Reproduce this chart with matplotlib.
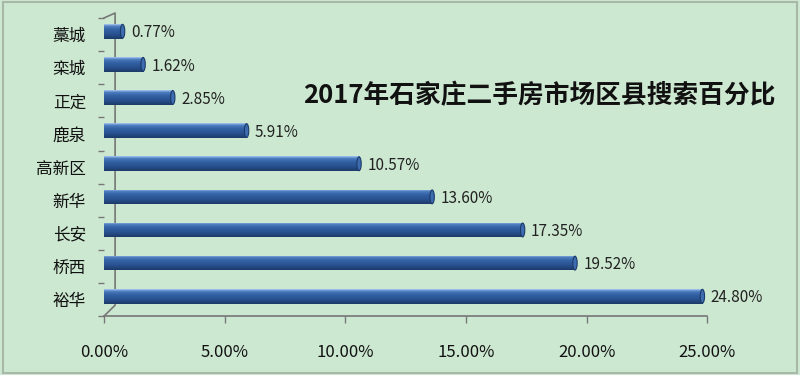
import numpy as np
import matplotlib.pyplot as plt
from matplotlib.colors import LinearSegmentedColormap
from matplotlib.patches import Ellipse

plt.rcParams['font.family'] = ['Noto Sans CJK SC', 'DejaVu Sans']

# 数据
districts = ["裕华", "桥西", "长安", "新华", "高新区", "鹿泉", "正定", "栾城", "藁城"]
share = [24.80, 19.52, 17.35, 13.60, 10.57, 5.91, 2.85, 1.62, 0.77]
xticks = [0, 5, 10, 15, 20, 25]
title = "2017年石家庄二手房市场区县搜索百分比"

bg = "#cde8d1"
fig = plt.figure(figsize=(8, 3.75), dpi=100, facecolor=bg)
ax = fig.add_axes([0.13, 0.157, 0.754, 0.795], facecolor=bg)

y = np.arange(len(districts))
bars = ax.barh(y + 0.1, share, height=0.44, color="#2d5a98", zorder=2)

# 圆柱渐变
cmap = LinearSegmentedColormap.from_list(
    "cyl", [(0, "#1c3a68"), (0.3, "#28508e"), (0.65, "#3463a6"),
            (0.86, "#4f7ec0"), (1, "#a9c8ee")])
grad = np.linspace(0, 1, 64).reshape(-1, 1)
for b in bars:
    x0, y0, w, h = b.get_x(), b.get_y(), b.get_width(), b.get_height()
    im = ax.imshow(grad, cmap=cmap, origin="lower", aspect="auto",
                   extent=[x0, x0 + w, y0, y0 + h], zorder=3)
    im.set_clip_path(b)
    ax.add_patch(Ellipse((x0 + w, y0 + h / 2), 0.18, h * 0.95,
                         facecolor="#3d6cb0", edgecolor="#1c3a68", lw=0.8, zorder=4))
    ax.text(x0 + w + 0.35, y0 + h / 2 - 0.05, f"{w:.2f}%", va="center", ha="left",
            fontsize=11, color="#222222", zorder=5)

ax.set_xlim(0, 25)
ax.set_ylim(-0.5, len(districts) - 0.5)
ax.set_xticks(xticks)
ax.set_xticklabels([f"{v:.2f}%" for v in xticks], fontsize=12, color="#111111")
ax.set_yticks(y)
ax.set_yticklabels(districts, fontsize=12, color="#111111")
ax.set_yticks(np.arange(-0.5, len(districts), 1), minor=True)
ax.tick_params(axis="y", which="major", length=0, pad=13)
ax.tick_params(axis="y", which="minor", length=4, color="#777777", width=1)
ax.tick_params(axis="x", length=5, color="#777777", width=1, pad=15)

for s in ["top", "right", "left"]:
    ax.spines[s].set_visible(False)
ax.spines["bottom"].set_color("#777777")
ax.spines["bottom"].set_linewidth(1.2)

# 3D 墙面线
wx = 0.46
ax.plot([0, wx, wx, 0], [-0.5, -0.17, 8.65, 8.5], color="#777777", lw=1.2,
        clip_on=False, zorder=1)

fig.text(0.674, 0.745, title, fontsize=18.5, fontweight="bold", ha="center",
         va="center", color="#111111")

# 外边框
fig.patches.append(plt.Rectangle((0.004, 0.006), 0.992, 0.988, transform=fig.transFigure,
                                 fill=False, edgecolor="#a8b8a8", lw=1.5))

fig.savefig("out.png", dpi=100, facecolor=bg)
